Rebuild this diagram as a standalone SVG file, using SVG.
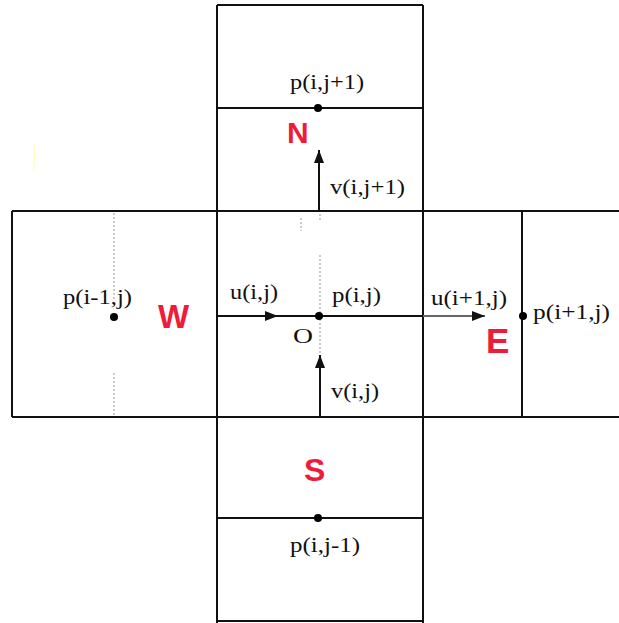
<svg xmlns="http://www.w3.org/2000/svg" width="619" height="623" viewBox="0 0 619 623">
<defs>
<style>
.ln{stroke:#111;stroke-width:2;fill:none}
.dot{fill:#000}
.dash{stroke:#bbb;stroke-width:1.5;stroke-dasharray:2 2;fill:none}
.lbl{font-family:"Liberation Serif","Times New Roman",serif;font-size:21px;fill:#111}
.cell{font-family:"Liberation Sans",Arial,sans-serif;font-weight:bold;fill:#ee1c3a}
</style>
<marker id="ah" viewBox="0 0 13 10" refX="13" refY="5" markerWidth="13" markerHeight="10" markerUnits="userSpaceOnUse" orient="auto">
<path d="M0,0 L13,5 L0,10 z" fill="#111"/>
</marker>
</defs>
<rect width="619" height="623" fill="#fff"/>
<line x1="34" y1="145" x2="34" y2="170" stroke="#ffffc8" stroke-width="2"/>

<g id="grid">
<line class="ln" x1="217" y1="5" x2="423" y2="5"/>
<line class="ln" x1="217" y1="5" x2="217" y2="623"/>
<line class="ln" x1="423" y1="5" x2="423" y2="623"/>
<line class="ln" x1="217" y1="108" x2="423" y2="108"/>
<line class="ln" x1="12" y1="211" x2="619" y2="211"/>
<line class="ln" x1="12" y1="417" x2="619" y2="417"/>
<line class="ln" x1="12" y1="211" x2="12" y2="417"/>
<line class="ln" x1="522" y1="211" x2="522" y2="417"/>
<line class="ln" x1="217" y1="518" x2="423" y2="518"/>
<line class="ln" x1="217" y1="621" x2="423" y2="621"/>
<line class="dash" x1="114" y1="213" x2="114" y2="300"/>
<line class="dash" x1="114" y1="373" x2="114" y2="417"/>
<line class="dash" x1="320" y1="255" x2="320" y2="356"/>
<line class="dash" x1="301" y1="218" x2="301" y2="231"/>
<line class="dash" x1="320" y1="214" x2="320" y2="220"/>
</g>

<g id="connectors">
<line class="ln" x1="217" y1="316" x2="278" y2="316" marker-end="url(#ah)"/>
<line class="ln" x1="276" y1="316" x2="423" y2="316"/>
<line x1="423" y1="316" x2="485" y2="316" stroke="#666" stroke-width="2" marker-end="url(#ah)"/>
<line class="ln" x1="320" y1="417" x2="320" y2="355" marker-end="url(#ah)"/>
<line class="ln" x1="319" y1="211" x2="319" y2="150" marker-end="url(#ah)"/>
</g>

<g id="node-N">
<text class="cell" x="287" y="143" font-size="30">N</text>
<circle class="dot" cx="318" cy="108" r="4"/>
<text class="lbl" x="290" y="89" textLength="74" lengthAdjust="spacingAndGlyphs">p(i,j+1)</text>
<text class="lbl" x="330" y="194" textLength="75" lengthAdjust="spacingAndGlyphs">v(i,j+1)</text>
</g>

<g id="node-W">
<text class="cell" x="158" y="328" font-size="33">W</text>
<circle class="dot" cx="114" cy="317" r="4"/>
<text class="lbl" x="63" y="304" textLength="69" lengthAdjust="spacingAndGlyphs">p(i-1,j)</text>
</g>

<g id="node-O">
<circle class="dot" cx="319" cy="316" r="4"/>
<text class="lbl" x="230" y="299" textLength="48" lengthAdjust="spacingAndGlyphs">u(i,j)</text>
<text class="lbl" x="332" y="302" textLength="49" lengthAdjust="spacingAndGlyphs">p(i,j)</text>
<text class="lbl" x="293" y="343" textLength="20" lengthAdjust="spacingAndGlyphs">O</text>
<text class="lbl" x="331" y="398" textLength="48" lengthAdjust="spacingAndGlyphs">v(i,j)</text>
</g>

<g id="node-E">
<text class="cell" x="486" y="353" font-size="35">E</text>
<circle class="dot" cx="523" cy="316" r="4"/>
<text class="lbl" x="431" y="305" textLength="76" lengthAdjust="spacingAndGlyphs">u(i+1,j)</text>
<text class="lbl" x="533" y="319" textLength="77" lengthAdjust="spacingAndGlyphs">p(i+1,j)</text>
</g>

<g id="node-S">
<text class="cell" x="304" y="481" font-size="32">S</text>
<circle class="dot" cx="318" cy="518" r="4"/>
<text class="lbl" x="290" y="552" textLength="70" lengthAdjust="spacingAndGlyphs">p(i,j-1)</text>
</g>
</svg>
